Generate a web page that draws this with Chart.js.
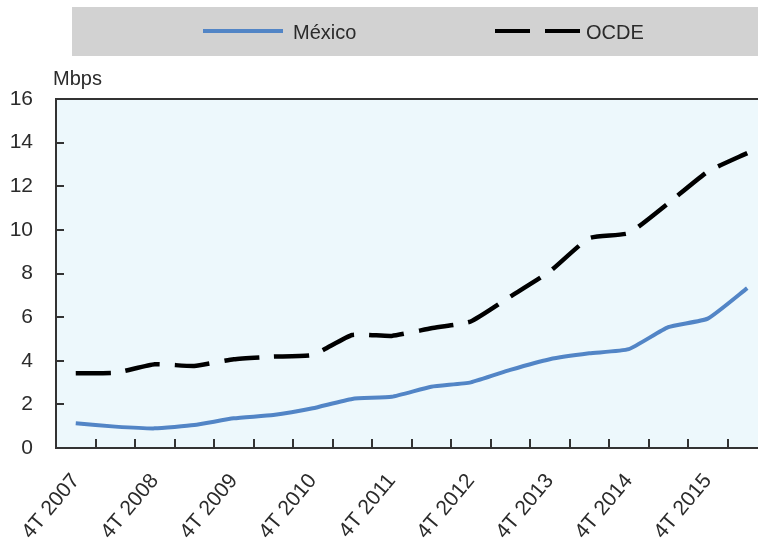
<!DOCTYPE html>
<html>
<head>
<meta charset="utf-8">
<script src="https://cdn.jsdelivr.net/npm/chart.js@4.4.1/dist/chart.umd.min.js"></script>
<style>
  html, body { margin: 0; padding: 0; background: #ffffff; overflow: hidden; }
  #wrap { width: 758px; height: 539px; overflow: hidden; }
  canvas { display: block; }
</style>
</head>
<body>
<div id="wrap"><canvas id="c" width="758" height="539" style="width:758px;height:539px"></canvas></div>
<script>
// Half-yearly periods (4T = fourth quarter, 2T = second quarter)
const periods = [
  '4T 2007', '2T 2008', '4T 2008', '2T 2009', '4T 2009', '2T 2010',
  '4T 2010', '2T 2011', '4T 2011', '2T 2012', '4T 2012', '2T 2013',
  '4T 2013', '2T 2014', '4T 2014', '2T 2015', '4T 2015', '2T 2016'
];

// Average connection speed, Mbps
const mexico = [1.13, 0.98, 0.90, 1.05, 1.36, 1.51, 1.82, 2.25, 2.35,
                2.81, 3.01, 3.58, 4.07, 4.34, 4.53, 5.54, 5.93, 7.33];
const ocde   = [3.43, 3.45, 3.84, 3.76, 4.07, 4.19, 4.27, 5.18, 5.14,
                5.49, 5.80, 6.94, 8.09, 9.62, 9.85, 11.22, 12.67, 13.52];

const seriesNames = ['México', 'OCDE'];
const yTicks = [0, 2, 4, 6, 8, 10, 12, 14, 16];

const FONT = '"Liberation Sans", Arial, sans-serif';
const INK = '#2b2b2b';
const PANEL_RIGHT = 767; // the panel runs past the canvas edge, so its right side is cut off

// Stretch the plot panel (and the x scale) past the right edge of the canvas
const widenPanel = {
  id: 'widenPanel',
  afterLayout(chart) {
    const a = chart.chartArea;
    a.right = PANEL_RIGHT;
    a.width = a.right - a.left;
    const x = chart.scales.x;
    x.right = PANEL_RIGHT;
    x.width = x.right - x.left;
    x.configure();
  }
};

// Panel background, frame, inner tick marks, unit label and legend band
const decor = {
  id: 'decor',
  beforeDatasetsDraw(chart) {
    const { ctx, chartArea: a } = chart;
    ctx.save();
    ctx.fillStyle = '#edf8fc';
    ctx.fillRect(a.left, a.top, a.right - a.left, a.bottom - a.top);
    ctx.restore();
  },
  afterDatasetsDraw(chart) {
    const { ctx, chartArea: a, scales } = chart;
    ctx.save();
    ctx.strokeStyle = '#333333';
    ctx.lineWidth = 2;
    ctx.strokeRect(a.left, a.top, a.right - a.left, a.bottom - a.top);

    // y tick marks pointing into the panel
    scales.y.ticks.forEach(t => {
      if (t.value === 0 || t.value === 16) return;
      const y = Math.round(scales.y.getPixelForValue(t.value));
      ctx.beginPath();
      ctx.moveTo(a.left, y);
      ctx.lineTo(a.left + 8, y);
      ctx.stroke();
    });
    // x tick marks between periods
    for (let i = 1; i < periods.length; i++) {
      const x = Math.round((scales.x.getPixelForValue(i - 1) + scales.x.getPixelForValue(i)) / 2);
      ctx.beginPath();
      ctx.moveTo(x, a.bottom);
      ctx.lineTo(x, a.bottom - 9);
      ctx.stroke();
    }

    // unit label
    ctx.fillStyle = INK;
    ctx.font = '20px ' + FONT;
    ctx.textAlign = 'left';
    ctx.textBaseline = 'alphabetic';
    ctx.fillText('Mbps', 53, 85);

    // legend band
    ctx.fillStyle = '#d2d2d2';
    ctx.fillRect(72, 7, chart.width - 72, 49);
    const items = [
      { x: 203, len: 80, textX: 293 },
      { x: 495, len: 85, textX: 586 }
    ];
    chart.data.datasets.forEach((ds, i) => {
      const it = items[i];
      ctx.strokeStyle = ds.borderColor;
      ctx.lineWidth = 4;
      ctx.setLineDash(ds.borderDash || []);
      ctx.beginPath();
      ctx.moveTo(it.x, 31);
      ctx.lineTo(it.x + it.len, 31);
      ctx.stroke();
      ctx.setLineDash([]);
      ctx.fillStyle = INK;
      ctx.fillText(ds.label, it.textX, 39);
    });
    ctx.restore();
  }
};

new Chart(document.getElementById('c'), {
  type: 'line',
  data: {
    labels: periods,
    datasets: [
      {
        label: seriesNames[0],
        data: mexico,
        borderColor: '#5285c6',
        borderWidth: 4,
        pointRadius: 0,
        tension: 0.15,
        borderJoinStyle: 'round'
      },
      {
        label: seriesNames[1],
        data: ocde,
        borderColor: '#000000',
        borderWidth: 4.5,
        borderDash: [35, 15],
        pointRadius: 0,
        tension: 0.15,
        borderJoinStyle: 'round'
      }
    ]
  },
  options: {
    responsive: false,
    animation: false,
    devicePixelRatio: 1,
    layout: { padding: { top: 99, left: 0, right: 0, bottom: 0 } },
    plugins: {
      legend: { display: false },
      tooltip: { enabled: false }
    },
    scales: {
      x: {
        type: 'category',
        offset: true,
        grid: { display: false, drawTicks: false },
        border: { display: false },
        afterFit(scale) {
          scale.height = 91;
          scale.paddingLeft = 0;
          scale.paddingRight = 0;
        },
        ticks: {
          autoSkip: false,
          minRotation: 50,
          maxRotation: 50,
          padding: 21,
          color: INK,
          font: { family: FONT, size: 21 },
          callback(value, index) {
            return index % 2 === 0 ? periods[index] : '';
          }
        }
      },
      y: {
        min: 0,
        max: 16,
        afterFit(scale) {
          scale.width = 56;
          scale.paddingTop = 0;
          scale.paddingBottom = 0;
        },
        afterBuildTicks(scale) { scale.ticks = yTicks.map(v => ({ value: v })); },
        grid: { display: false, drawTicks: false },
        border: { display: false },
        ticks: {
          padding: 23,
          color: INK,
          font: { family: FONT, size: 21 }
        }
      }
    }
  },
  plugins: [widenPanel, decor]
});
</script>
</body>
</html>
